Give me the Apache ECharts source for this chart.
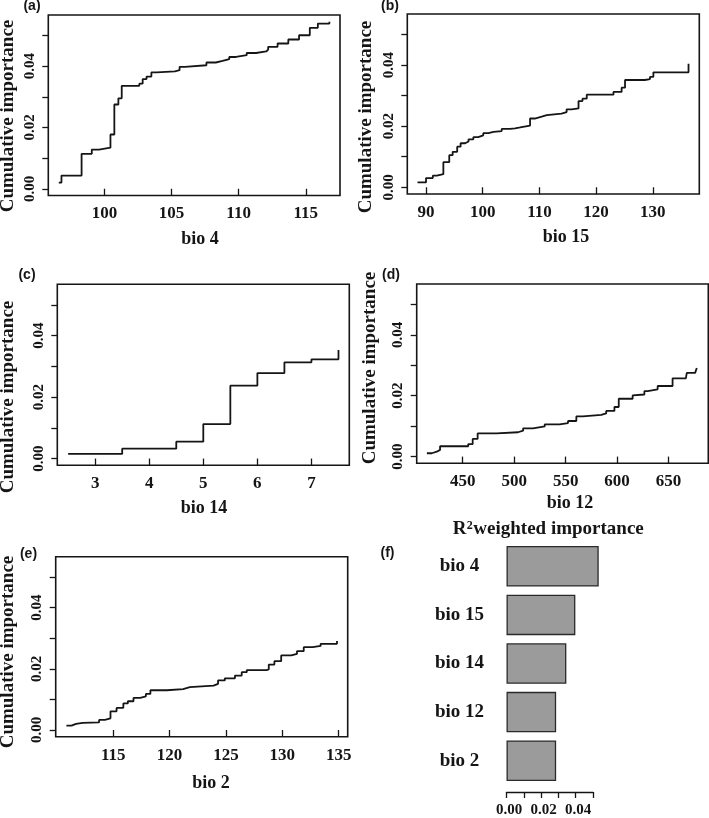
<!DOCTYPE html>
<html>
<head>
<meta charset="utf-8">
<script src="https://cdn.jsdelivr.net/npm/echarts@6/dist/echarts.min.js"></script>
<style>
html,body{margin:0;padding:0;background:#fff;}
#chart{width:709px;height:818px;}
</style>
</head>
<body>
<div id="chart"></div>
<script>
// ---------- data ----------
const bio4X = [96.6, 96.8, 98.3, 99.06, 99.6, 100.45, 100.74, 101.04, 101.29, 102.6, 102.85, 103.14, 103.5, 103.9, 105.25, 105.6, 106.0, 107.6, 108.3, 108.8, 109.3, 109.8, 110.6, 111.3, 112.05, 112.2, 112.9, 113.7, 114.5, 115.3, 115.9, 116.76];
const bio4Y = [0.0020, 0.0043, 0.0114, 0.0128, 0.0134, 0.0177, 0.0275, 0.0295, 0.0336, 0.0343, 0.0358, 0.0366, 0.0380, 0.0383, 0.0387, 0.0398, 0.0403, 0.0412, 0.0417, 0.0423, 0.0430, 0.0436, 0.0443, 0.0448, 0.0454, 0.0463, 0.0474, 0.0487, 0.0501, 0.0525, 0.0539, 0.0545];

const bio15X = [88.5, 90.0, 91.2, 91.9, 93.06, 94.1, 94.7, 95.5, 96.1, 96.9, 97.5, 98.35, 99.2, 100.1, 101.0, 101.9, 103.35, 104.8, 105.7, 106.6, 108.35, 109.2, 110.4, 111.3, 113.9, 114.8, 115.7, 116.9, 117.6, 118.35, 123.06, 124.5, 125.1, 128.6, 129.5, 130.1, 136.3, 136.3];
const bio15Y = [0.0016, 0.0030, 0.0038, 0.0043, 0.0082, 0.0105, 0.0116, 0.0133, 0.0144, 0.0150, 0.0157, 0.0164, 0.0170, 0.0177, 0.0181, 0.0184, 0.0191, 0.0193, 0.0196, 0.0202, 0.0225, 0.0231, 0.0236, 0.0241, 0.0246, 0.0255, 0.0258, 0.0282, 0.0290, 0.0303, 0.0312, 0.0326, 0.0351, 0.0354, 0.0361, 0.0376, 0.0376, 0.0404];

const bio14X = [2.5, 3.5, 4.5, 5.0, 5.5, 6.0, 6.5, 7.0, 7.5, 7.5];
const bio14Y = [0.0015, 0.0032, 0.0055, 0.0112, 0.0237, 0.0278, 0.0313, 0.0323, 0.0323, 0.0353];

const bio12X = [415.2, 420.0, 424.8, 428.0, 455.4, 459.7, 464.5, 482.9, 503.8, 508.7, 518.3, 529.7, 544.2, 552.3, 560.4, 566.8, 584.6, 589.4, 597.4, 601.6, 615.1, 616.8, 626.5, 629.7, 639.4, 653.9, 666.8, 667.7, 675.8, 677.4];
const bio12Y = [0.0011, 0.0016, 0.0022, 0.0034, 0.0041, 0.0058, 0.0076, 0.0080, 0.0085, 0.0093, 0.0099, 0.0106, 0.0110, 0.0117, 0.0132, 0.0137, 0.0142, 0.0150, 0.0163, 0.0190, 0.0201, 0.0204, 0.0215, 0.0221, 0.0232, 0.0257, 0.0262, 0.0275, 0.0280, 0.0291];

const bio2X = [110.85, 111.3, 111.7, 112.3, 113.75, 114.26, 114.76, 115.3, 115.9, 116.3, 116.8, 117.4, 117.9, 118.3, 119.75, 121.2, 121.8, 123.9, 124.3, 124.9, 125.8, 126.4, 126.85, 128.6, 128.8, 129.3, 129.9, 130.8, 131.3, 131.9, 132.7, 133.4, 134.85, 134.85];
const bio2Y = [0.0014, 0.0020, 0.0023, 0.0025, 0.0033, 0.0038, 0.0061, 0.0072, 0.0087, 0.0094, 0.0105, 0.0110, 0.0118, 0.0130, 0.0134, 0.0140, 0.0145, 0.0151, 0.0162, 0.0169, 0.0178, 0.0189, 0.0196, 0.0198, 0.0214, 0.0225, 0.0244, 0.0249, 0.0258, 0.0271, 0.0275, 0.0282, 0.0282, 0.0291];

const barCategories = ['bio 4', 'bio 15', 'bio 14', 'bio 12', 'bio 2'];
const barValues = [0.0533, 0.0398, 0.0346, 0.0287, 0.0287];

const yTickValues = [0, 0.01, 0.02, 0.03, 0.04, 0.05];
const yLabelValues = [0, 0.02, 0.04];
const xTicksA = [100, 105, 110, 115];
const xTicksB = [90, 100, 110, 120, 130];
const xTicksC = [3, 4, 5, 6, 7];
const xTicksD = [450, 500, 550, 600, 650];
const xTicksE = [115, 120, 125, 130, 135];
const barTickValues = [0, 0.01, 0.02, 0.03, 0.04, 0.05];
const barLabelValues = [0, 0.02, 0.04];

// ---------- layout ----------
const SERIF = '"Liberation Serif", "Times New Roman", serif';
const SANS = '"Liberation Sans", Arial, sans-serif';
const INK = '#151515';

const panels = [
  {x: bio4X, y: bio4Y, ticks: xTicksA, min: 95.82, max: 117.55, grid: {left: 48.3, top: 15, width: 291.7, height: 180.5}},
  {x: bio15X, y: bio15Y, ticks: xTicksB, min: 86.7, max: 138.2, grid: {left: 407.3, top: 14, width: 292, height: 180}},
  {x: bio14X, y: bio14Y, ticks: xTicksC, min: 2.3, max: 7.7, grid: {left: 57.3, top: 284.3, width: 292, height: 181}},
  {x: bio12X, y: bio12Y, ticks: xTicksD, min: 405.3, max: 688.6, grid: {left: 416.7, top: 284, width: 291.6, height: 179.3}},
  {x: bio2X, y: bio2Y, ticks: xTicksE, min: 109.9, max: 135.8, grid: {left: 55.7, top: 556.7, width: 292, height: 180}}
];

const grids = [], xAxes = [], yAxes = [], series = [];
panels.forEach((p, i) => {
  grids.push(Object.assign({show: true, borderColor: INK, borderWidth: 1.6, backgroundColor: 'transparent'}, p.grid));
  xAxes.push({
    type: 'value', gridIndex: i, min: p.min, max: p.max,
    axisLine: {show: false},
    splitLine: {show: false},
    axisTick: {show: true, inside: false, length: 7, customValues: p.ticks, lineStyle: {color: INK, width: 1.3}},
    axisLabel: {customValues: p.ticks, margin: 10, fontFamily: SERIF, fontWeight: 'bold', fontSize: 17, color: INK}
  });
  yAxes.push({
    type: 'value', gridIndex: i, min: -0.0022, max: 0.0567,
    axisLine: {show: false},
    splitLine: {show: false},
    axisTick: {show: true, length: 6, customValues: yTickValues, lineStyle: {color: INK, width: 1.3}},
    axisLabel: {customValues: yLabelValues, rotate: 90, margin: 11, fontFamily: SERIF, fontWeight: 'bold', fontSize: 15, color: INK,
      formatter: v => v.toFixed(2)}
  });
  series.push({
    type: 'line', xAxisIndex: i, yAxisIndex: i, step: 'end', symbol: 'none',
    lineStyle: {color: INK, width: 1.8},
    data: p.x.map((v, k) => [v, p.y[k]]),
    silent: true
  });
});

// bar panel (f)
grids.push({left: 506.5, top: 542, width: 86.5, height: 243, show: false});
xAxes.push({
  type: 'value', gridIndex: 5, min: 0, max: 0.05, offset: 7,
  axisLine: {show: true, lineStyle: {color: INK, width: 1.3}},
  splitLine: {show: false},
  axisTick: {show: true, length: 6, customValues: barTickValues, lineStyle: {color: INK, width: 1.3}},
  axisLabel: {customValues: barLabelValues, margin: 11, fontFamily: SERIF, fontWeight: 'bold', fontSize: 15, color: INK,
    formatter: v => v.toFixed(2), padding: [0, 0, 0, 5]}
});
yAxes.push({
  type: 'category', gridIndex: 5, data: barCategories, inverse: true,
  axisLine: {show: false}, axisTick: {show: false}, splitLine: {show: false},
  axisLabel: {align: 'center', margin: 47, fontFamily: SERIF, fontWeight: 'bold', fontSize: 19, color: INK}
});
series.push({
  type: 'bar', xAxisIndex: 5, yAxisIndex: 5, data: barValues, barWidth: 40.5, clip: false,
  itemStyle: {color: '#9b9b9b', borderColor: '#2a2a2a', borderWidth: 1.3},
  silent: true
});

// text labels
function txt(text, x, y, opts) {
  return Object.assign({
    type: 'text', x: x, y: y, silent: true,
    style: Object.assign({text: text, textAlign: 'center', textVerticalAlign: 'middle', fill: INK,
      font: 'bold 18px ' + SERIF}, (opts && opts.style) || {})
  }, opts && opts.rotation ? {rotation: opts.rotation} : {});
}
const ylabFont = 'bold 19px ' + SERIF;
const xlabFont = 'bold 18px ' + SERIF;
const tagFont = 'bold 14px ' + SANS;
const graphics = [
  txt('Cumulative importance', 8, 116, {rotation: Math.PI / 2, style: {font: ylabFont}}),
  txt('Cumulative importance', 366, 117, {rotation: Math.PI / 2, style: {font: ylabFont}}),
  txt('Cumulative importance', 8.3, 397, {rotation: Math.PI / 2, style: {font: ylabFont}}),
  txt('Cumulative importance', 370, 368, {rotation: Math.PI / 2, style: {font: ylabFont}}),
  txt('Cumulative importance', 8.3, 652, {rotation: Math.PI / 2, style: {font: ylabFont}}),
  txt('bio 4', 200, 239, {style: {font: xlabFont}}),
  txt('bio 15', 566, 237, {style: {font: xlabFont}}),
  txt('bio 14', 204, 508, {style: {font: xlabFont}}),
  txt('bio 12', 570, 503, {style: {font: xlabFont}}),
  txt('bio 2', 211, 783, {style: {font: xlabFont}}),
  txt('(a)', 32, 6.5, {style: {font: tagFont}}),
  txt('(b)', 390, 6.5, {style: {font: tagFont}}),
  txt('(c)', 27, 275, {style: {font: tagFont}}),
  txt('(d)', 391, 275, {style: {font: tagFont}}),
  txt('(e)', 28.5, 554, {style: {font: tagFont}}),
  txt('(f)', 387.5, 553, {style: {font: tagFont}}),
  txt('R', 452.7, 529, {style: {font: 'bold 19px ' + SERIF, textAlign: 'left'}}),
  txt('2', 469.7, 525.5, {style: {font: 'bold 12px ' + SERIF}}),
  txt('weighted importance', 473.3, 529, {style: {font: 'bold 19px ' + SERIF, textAlign: 'left'}})
];

const chart = echarts.init(document.getElementById('chart'), null, {renderer: 'canvas'});
chart.setOption({
  animation: false,
  backgroundColor: '#fff',
  grid: grids,
  xAxis: xAxes,
  yAxis: yAxes,
  series: series,
  graphic: graphics
});
</script>
</body>
</html>
